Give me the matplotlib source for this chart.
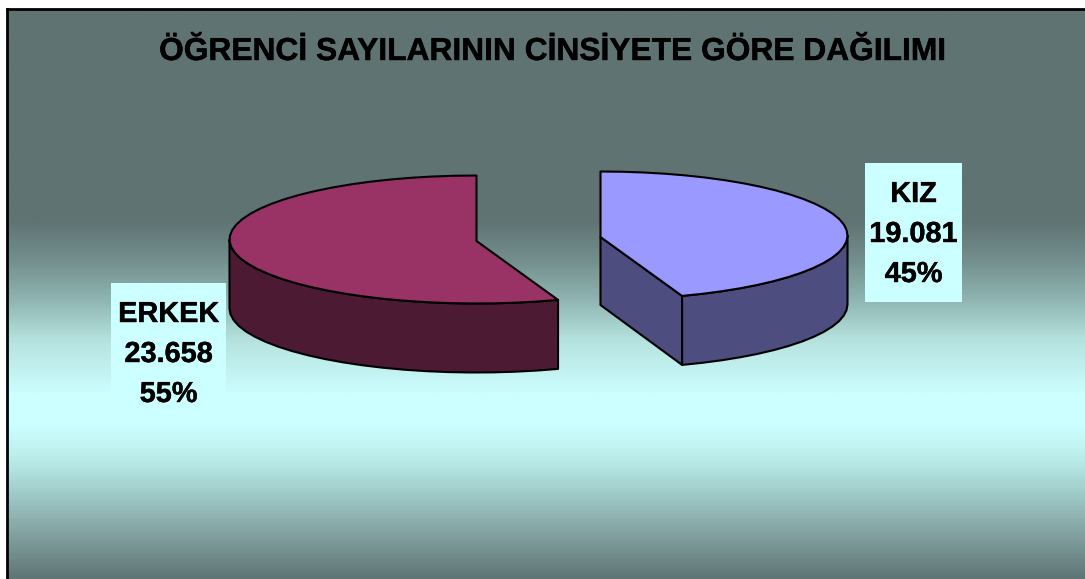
import numpy as np
import matplotlib
matplotlib.use("Agg")
import matplotlib.pyplot as plt
import matplotlib.patheffects as pe
from matplotlib.patches import Polygon, Rectangle
from matplotlib.colors import LinearSegmentedColormap

plt.rcParams['font.family'] = ['Liberation Sans', 'DejaVu Sans']

title = "ÖĞRENCİ SAYILARININ CİNSİYETE GÖRE DAĞILIMI"
categories = ["ERKEK", "KIZ"]
values = [23658, 19081]

W, H = 1085, 579
fig = plt.figure(figsize=(W / 100, H / 100), dpi=100, facecolor="white")
ax = fig.add_axes([0, 0, 1, 1])
ax.set_xlim(0, W)
ax.set_ylim(H, 0)
ax.axis("off")

# background gradient
FRAME_L, FRAME_T = 7, 9
BG_BOTTOM = 582
bg_stops = [(FRAME_T, "#5F7373"), (220, "#5F7373"), (260, "#738F8D"), (300, "#8FB5B2"),
            (340, "#B5E2DE"), (395, "#CCFFFF"), (425, "#CCFFFF"), (460, "#BAEDEA"),
            (BG_BOTTOM, "#5F7373")]
cmap = LinearSegmentedColormap.from_list(
    "bg", [((y - FRAME_T) / (BG_BOTTOM - FRAME_T), c) for y, c in bg_stops])
grad = np.linspace(0, 1, 600).reshape(-1, 1)
ax.imshow(grad, cmap=cmap, vmin=0, vmax=1, aspect="auto",
          extent=(FRAME_L, W + 2, BG_BOTTOM, FRAME_T), interpolation="bilinear", zorder=0)
ax.set_xlim(0, W)
ax.set_ylim(H, 0)
ax.plot([FRAME_L, FRAME_L], [H + 2, FRAME_T], color="black", lw=2.0, zorder=1, solid_capstyle="projecting")
ax.plot([FRAME_L, W + 2], [FRAME_T, FRAME_T], color="black", lw=2.0, zorder=1, solid_capstyle="projecting")

heavy = [pe.withStroke(linewidth=0.3, foreground="black")]
ax.text(552, 60, title, ha="center", va="baseline", fontsize=22.85, fontweight="bold",
        color="black", path_effects=heavy)

RX, RY, DEPTH = 247, 64, 69
EDGE = dict(edgecolor="black", linewidth=1.5, joinstyle="round")


def pt(cx, cy, deg):
    """deg measured clockwise from 12 o'clock on the projected ellipse."""
    a = np.radians(deg)
    return np.column_stack([cx + RX * np.sin(a), cy - RY * np.cos(a)])


def arc(cx, cy, d0, d1):
    n = max(int(abs(d1 - d0) / 5), 2) + 1
    return pt(cx, cy, np.linspace(d0, d1, n))


total = sum(values)
sweep_m = 360 * values[0] / total
sweep_f = 360 * values[1] / total
APEX_DROP = 1.5

# ERKEK: counter-clockwise from 12 o'clock
cx, cy = 476.5, 239.5
top_arc = arc(cx, cy, 0, -sweep_m)
side_arc = arc(cx, cy, -90, -sweep_m)
side = np.vstack([side_arc, (side_arc + [0, DEPTH])[::-1]])
ax.add_patch(Polygon(side, closed=True, facecolor="#4D1A33", zorder=3, **EDGE))
ax.add_patch(Polygon(np.vstack([[cx, cy + APEX_DROP], top_arc]), closed=True,
                     facecolor="#993366", zorder=4, **EDGE))

# KIZ: clockwise from 12 o'clock
cx, cy = 600.5, 235.5
top_arc = arc(cx, cy, 0, sweep_f)
side_arc = arc(cx, cy, 90, sweep_f)
side = np.vstack([side_arc, (side_arc + [0, DEPTH])[::-1]])
ax.add_patch(Polygon(side, closed=True, facecolor="#4D4D80", zorder=3, **EDGE))
tip = pt(cx, cy, np.array([sweep_f]))[0]
apex = np.array([cx, cy + APEX_DROP])
cut = np.array([apex, tip, tip + [0, DEPTH], apex + [0, DEPTH - 1]])
ax.add_patch(Polygon(cut, closed=True, facecolor="#4D4D80", zorder=3, **EDGE))
ax.add_patch(Polygon(np.vstack([apex, top_arc]), closed=True, facecolor="#9999FF", zorder=4, **EDGE))


def fmt(v):
    return f"{v:,}".replace(",", ".")


# data labels
boxes = [(111, 283, 115, 137, 168.5), (865, 163, 97, 139, 913.5)]
for cat, val, (bx, by, bw, bh, tx) in zip(categories, values, boxes):
    ax.add_patch(Rectangle((bx, by), bw, bh, facecolor="#CCFFFF", edgecolor="none", zorder=5))
    lines = [cat, fmt(val), f"{round(100 * val / total)}%"]
    for i, s in enumerate(lines):
        ax.text(tx, by + 39 + 40 * i, s, ha="center", va="baseline", fontsize=20.8,
                fontweight="bold", color="black", zorder=6, path_effects=heavy)

fig.savefig("out.png", dpi=100, facecolor="white")
